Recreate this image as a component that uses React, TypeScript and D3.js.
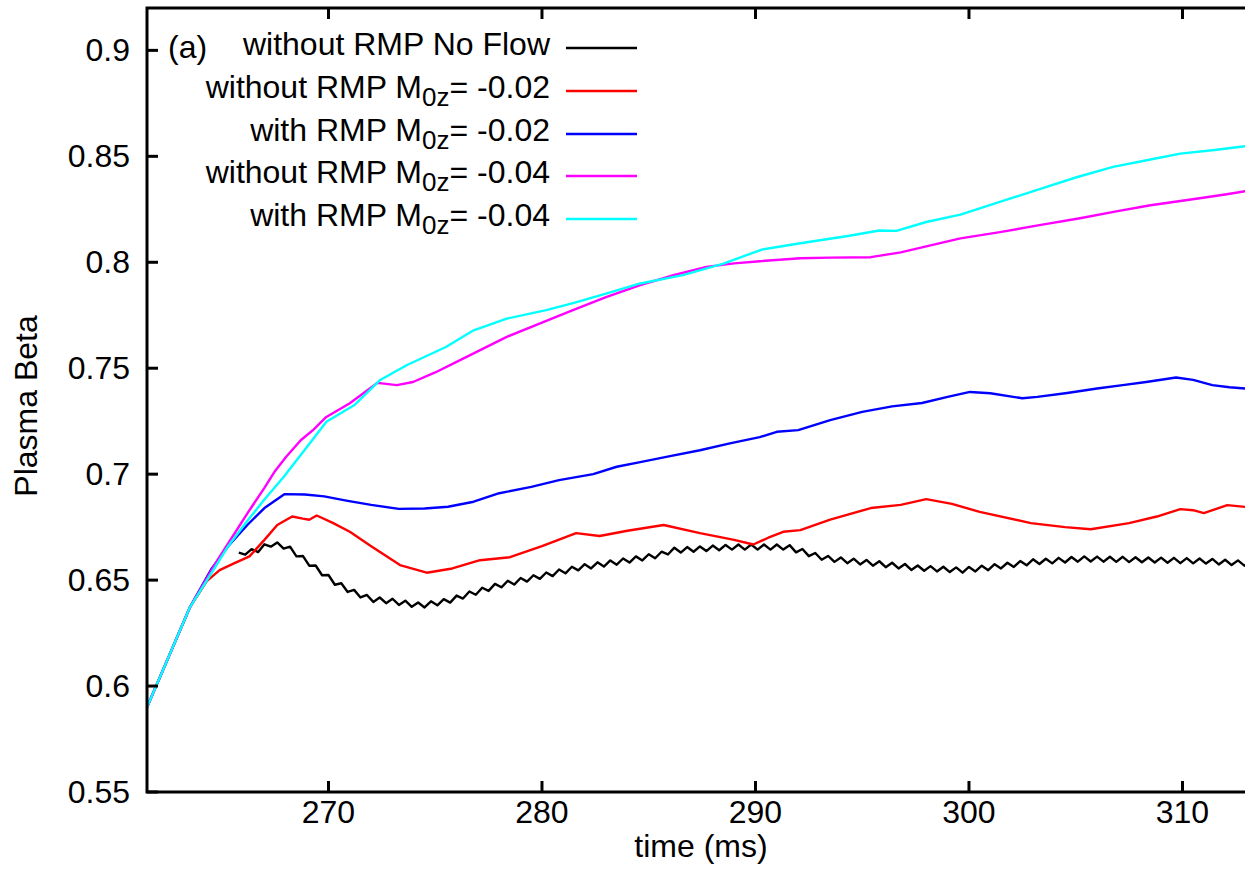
import React from "react";
import * as d3 from "d3";

// ---- data (time in ms, plasma beta) ----
const xTicks = [270, 280, 290, 300, 310];
const yTicks = [0.55, 0.6, 0.65, 0.7, 0.75, 0.8, 0.85, 0.9];

const seriesNames = [
  "without RMP No Flow",
  "without RMP",
  "with RMP",
  "without RMP",
  "with RMP",
];
const seriesFlow = ["", "-0.02", "-0.02", "-0.04", "-0.04"];
const seriesColors = ["#000000", "#ff0000", "#0000ff", "#ff00ff", "#00ffff"];

const noFlow: [number, number][] = [
  [265.8, 0.663], [266.1, 0.662], [266.4, 0.6646], [266.7, 0.6632], [267.0, 0.6669], [267.3, 0.6658],
  [267.6, 0.6678], [267.9, 0.6649], [268.2, 0.6658], [268.5, 0.6612], [268.8, 0.6614], [269.1, 0.6568],
  [269.4, 0.6569], [269.7, 0.6523], [270.0, 0.6524], [270.3, 0.6478], [270.6, 0.6485], [270.9, 0.6444],
  [271.2, 0.6454], [271.5, 0.6418], [271.8, 0.643], [272.1, 0.6397], [272.4, 0.6418], [272.7, 0.6391],
  [273.0, 0.6412], [273.3, 0.6383], [273.6, 0.6403], [273.9, 0.6374], [274.2, 0.6394], [274.5, 0.6371],
  [274.8, 0.64], [275.1, 0.6381], [275.4, 0.641], [275.7, 0.6394], [276.0, 0.6427], [276.3, 0.6413],
  [276.6, 0.6446], [276.9, 0.6431], [277.2, 0.6464], [277.5, 0.6449], [277.8, 0.6482], [278.1, 0.6466],
  [278.4, 0.6497], [278.7, 0.6479], [279.0, 0.651], [279.3, 0.6493], [279.6, 0.6523], [279.9, 0.6506],
  [280.2, 0.6536], [280.5, 0.6519], [280.8, 0.655], [281.1, 0.6532], [281.4, 0.6563], [281.7, 0.6546],
  [282.0, 0.6575], [282.3, 0.6555], [282.6, 0.6584], [282.9, 0.6564], [283.2, 0.6593], [283.5, 0.6573],
  [283.8, 0.6602], [284.1, 0.6583], [284.4, 0.6612], [284.7, 0.6593], [285.0, 0.6622], [285.3, 0.6603],
  [285.6, 0.6634], [285.9, 0.6621], [286.2, 0.6653], [286.5, 0.663], [286.8, 0.6656], [287.1, 0.6634],
  [287.4, 0.6659], [287.7, 0.6637], [288.0, 0.6663], [288.3, 0.6641], [288.6, 0.6666], [288.9, 0.6644],
  [289.2, 0.6668], [289.5, 0.6644], [289.8, 0.6668], [290.1, 0.6644], [290.4, 0.6668], [290.7, 0.6644],
  [291.0, 0.6668], [291.3, 0.6644], [291.6, 0.6665], [291.9, 0.6631], [292.2, 0.6647], [292.5, 0.6613],
  [292.8, 0.6628], [293.1, 0.6596], [293.4, 0.6614], [293.7, 0.6586], [294.0, 0.6607], [294.3, 0.658],
  [294.6, 0.6601], [294.9, 0.6574], [295.2, 0.6595], [295.5, 0.6568], [295.8, 0.6589], [296.1, 0.6561],
  [296.4, 0.6582], [296.7, 0.6555], [297.0, 0.6576], [297.3, 0.6548], [297.6, 0.6569], [297.9, 0.6544],
  [298.2, 0.6566], [298.5, 0.6541], [298.8, 0.6563], [299.1, 0.6538], [299.4, 0.656], [299.7, 0.6535],
  [300.0, 0.6562], [300.3, 0.6541], [300.6, 0.6568], [300.9, 0.6547], [301.2, 0.6575], [301.5, 0.6555],
  [301.8, 0.6582], [302.1, 0.6562], [302.4, 0.659], [302.7, 0.657], [303.0, 0.6598], [303.3, 0.6576],
  [303.6, 0.6601], [303.9, 0.6579], [304.2, 0.6605], [304.5, 0.6583], [304.8, 0.6609], [305.1, 0.6587],
  [305.4, 0.6612], [305.7, 0.6588], [306.0, 0.6611], [306.3, 0.6587], [306.6, 0.661], [306.9, 0.6586],
  [307.2, 0.661], [307.5, 0.6585], [307.8, 0.6608], [308.1, 0.6584], [308.4, 0.6607], [308.7, 0.6583],
  [309.0, 0.6606], [309.3, 0.6582], [309.6, 0.6605], [309.9, 0.658], [310.2, 0.6604], [310.5, 0.6579],
  [310.8, 0.6602], [311.1, 0.6578], [311.4, 0.66], [311.7, 0.6574], [312.0, 0.6596], [312.3, 0.6571],
  [312.6, 0.6593], [312.9, 0.6568], [313.2, 0.6591], [313.5, 0.6566],
];

const noRmp002: [number, number][] = [
  [261.5, 0.59], [263.5, 0.637], [264.3, 0.6495], [264.9, 0.6547], [265.6, 0.658], [266.3, 0.6612],
  [267.0, 0.669], [267.6, 0.676], [268.3, 0.68], [268.8, 0.679], [269.1, 0.6785], [269.45, 0.6805],
  [270.2, 0.677], [271.0, 0.6728], [272.0, 0.666], [273.35, 0.6571], [274.6, 0.6535], [275.8, 0.6555],
  [277.1, 0.6594], [278.5, 0.6608], [280.0, 0.666], [281.6, 0.6722], [282.7, 0.6708], [284.0, 0.6733],
  [285.7, 0.676], [287.4, 0.6722], [289.0, 0.669], [289.9, 0.6668], [290.6, 0.67], [291.3, 0.6728],
  [292.1, 0.6736], [293.5, 0.6785], [295.4, 0.684], [296.8, 0.6855], [298.0, 0.6882], [299.2, 0.686],
  [300.5, 0.6822], [302.9, 0.6769], [304.5, 0.675], [305.7, 0.674], [307.5, 0.6769], [308.8, 0.68],
  [309.9, 0.6835], [310.5, 0.683], [311.0, 0.6816], [312.1, 0.6854], [313.5, 0.684],
];

const rmp002: [number, number][] = [
  [261.5, 0.59], [263.5, 0.637], [264.5, 0.655], [265.3, 0.666], [266.2, 0.676], [267.0, 0.684],
  [267.95, 0.6906], [268.9, 0.6904], [269.8, 0.6895], [270.9, 0.6874], [272.0, 0.6855], [273.3, 0.6836],
  [274.5, 0.6838], [275.6, 0.6846], [276.8, 0.687], [278.0, 0.691], [279.5, 0.694], [280.8, 0.6972],
  [282.4, 0.7], [283.5, 0.7035], [284.6, 0.7057], [286.0, 0.7085], [287.4, 0.7113], [288.8, 0.7145],
  [290.2, 0.7175], [291.0, 0.72], [292.0, 0.7208], [293.5, 0.7255], [295.0, 0.7294], [296.4, 0.732],
  [297.8, 0.7336], [299.0, 0.7365], [300.05, 0.7388], [301.0, 0.7382], [302.5, 0.7358], [303.2, 0.7365],
  [304.6, 0.7383], [306.0, 0.7404], [307.2, 0.742], [308.3, 0.7435], [309.7, 0.7456], [310.5, 0.7445],
  [311.4, 0.742], [312.2, 0.741], [313.5, 0.74],
];

const noRmp004: [number, number][] = [
  [261.5, 0.59], [263.5, 0.637], [264.8, 0.6594], [265.6, 0.672], [266.3, 0.683], [267.0, 0.6935],
  [267.5, 0.7015], [268.0, 0.708], [268.7, 0.716], [269.3, 0.721], [269.9, 0.727], [271.0, 0.7335],
  [272.3, 0.7431], [273.2, 0.742], [273.96, 0.7435], [275.0, 0.748], [276.0, 0.753], [277.2, 0.759],
  [278.35, 0.7648], [280.0, 0.7715], [281.45, 0.7774], [283.0, 0.7835], [284.6, 0.7892], [286.2, 0.794],
  [287.7, 0.7978], [289.0, 0.7995], [290.2, 0.8005], [292.1, 0.8019], [293.5, 0.8022], [295.4, 0.8024],
  [296.8, 0.8047], [298.2, 0.808], [299.6, 0.8113], [301.45, 0.8142], [303.3, 0.8175], [305.2, 0.8208],
  [306.9, 0.824], [308.5, 0.8269], [310.8, 0.8302], [312.0, 0.832], [313.5, 0.8345],
];

const rmp004: [number, number][] = [
  [261.5, 0.59], [263.5, 0.637], [264.5, 0.653], [265.3, 0.666], [266.2, 0.678], [267.0, 0.688],
  [267.9, 0.6987], [269.0, 0.7129], [269.9, 0.7247], [271.2, 0.7325], [272.4, 0.7443], [273.66, 0.7514],
  [275.5, 0.76], [276.8, 0.7679], [278.35, 0.7734], [280.2, 0.7774], [281.5, 0.7808], [283.0, 0.7852],
  [284.6, 0.79], [286.6, 0.7939], [288.5, 0.7994], [290.3, 0.806], [292.1, 0.809], [294.4, 0.8125],
  [295.8, 0.815], [296.6, 0.8148], [298.0, 0.819], [299.6, 0.8225], [301.3, 0.828], [303.6, 0.8355],
  [305.0, 0.84], [306.75, 0.845], [308.5, 0.8485], [309.9, 0.8513], [311.5, 0.853], [313.5, 0.8555],
];

const allSeries = [noFlow, noRmp002, rmp002, noRmp004, rmp004];

// ---- layout ----
const W = 1245;
const H = 871;
const left = 147;
const top = 8;
const bottom = 792;
const right = 1257.2;
const FONT = "'Liberation Sans', Arial, Helvetica, sans-serif";
const FS = 32;

export default function App() {
  const x = d3.scaleLinear().domain([261.5, 313.5]).range([left, right]);
  const y = d3.scaleLinear().domain([0.55, 0.92]).range([bottom, top]);
  const line = d3
    .line<[number, number]>()
    .x((d) => x(d[0]))
    .y((d) => y(d[1]));
  const tickLen = 11;
  const legendRight = 550;
  const legendRows = [48, 91, 134, 176, 219];

  return (
    <svg
      width={W}
      height={H}
      style={{ position: "absolute", left: 0, top: 0, background: "#fff" }}
      fontFamily={FONT}
    >
      <defs>
        <clipPath id="plot">
          <rect x={left} y={top} width={right - left} height={bottom - top} />
        </clipPath>
      </defs>
      <rect x={0} y={0} width={W} height={H} fill="#fff" />

      {/* data lines */}
      <g clipPath="url(#plot)" fill="none" strokeWidth={2.4} strokeLinejoin="round">
        {allSeries.map((s, i) => (
          <path key={i} d={line(s) || ""} stroke={seriesColors[i]} />
        ))}
      </g>

      {/* frame */}
      <rect x={left} y={top} width={right - left} height={bottom - top} fill="none" stroke="#000" strokeWidth={3} />

      {/* y ticks */}
      {yTicks.map((t) => (
        <g key={"y" + t}>
          <line x1={left} x2={left + tickLen} y1={y(t)} y2={y(t)} stroke="#000" strokeWidth={3} />
          <line x1={right} x2={right - tickLen} y1={y(t)} y2={y(t)} stroke="#000" strokeWidth={3} />
          <text x={130} y={y(t) + 11} textAnchor="end" fontSize={FS} fill="#000">
            {String(t)}
          </text>
        </g>
      ))}

      {/* x ticks */}
      {xTicks.map((t) => (
        <g key={"x" + t}>
          <line x1={x(t)} x2={x(t)} y1={bottom} y2={bottom - tickLen} stroke="#000" strokeWidth={3} />
          <line x1={x(t)} x2={x(t)} y1={top} y2={top + tickLen} stroke="#000" strokeWidth={3} />
          <text x={x(t)} y={823} textAnchor="middle" fontSize={FS} fill="#000">
            {String(t)}
          </text>
        </g>
      ))}

      {/* axis titles */}
      <text x={701} y={857} textAnchor="middle" fontSize={FS} fill="#000">
        time (ms)
      </text>
      <text
        transform={`translate(37, 406) rotate(-90)`}
        textAnchor="middle"
        fontSize={FS}
        fill="#000"
      >
        Plasma Beta
      </text>

      {/* panel label */}
      <text x={168} y={58} fontSize={FS} fill="#000">
        (a)
      </text>

      {/* legend */}
      {seriesNames.map((name, i) => (
        <g key={"lg" + i}>
          <text x={legendRight} y={legendRows[i] + 7} textAnchor="end" fontSize={FS} fill="#000">
            {seriesFlow[i] === "" ? (
              name
            ) : (
              <>
                {name + " M"}
                <tspan fontSize={26} dy={8}>0z</tspan>
                <tspan dy={-8}>{"= " + seriesFlow[i]}</tspan>
              </>
            )}
          </text>
          <line
            x1={566}
            x2={637}
            y1={legendRows[i]}
            y2={legendRows[i]}
            stroke={seriesColors[i]}
            strokeWidth={2.4}
          />
        </g>
      ))}
    </svg>
  );
}
